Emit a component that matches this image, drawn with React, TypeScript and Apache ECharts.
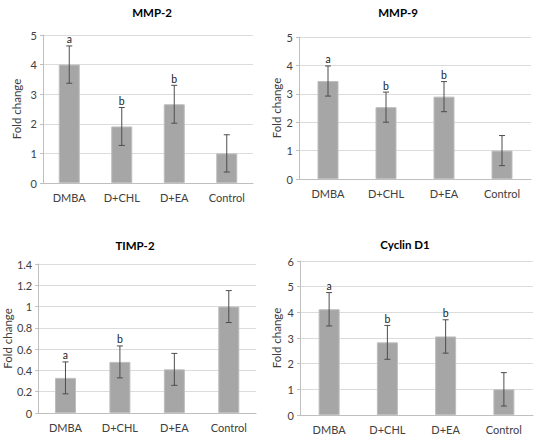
import React, { useEffect, useRef } from "react";
import * as echarts from "echarts";

const categories = ["DMBA", "D+CHL", "D+EA", "Control"];

const mmp2Mean = [4.0, 1.91, 2.66, 1.0];
const mmp2Err = [0.63, 0.64, 0.64, 0.63];
const mmp2Letters = ["a", "b", "b", ""];

const mmp9Mean = [3.45, 2.53, 2.9, 1.0];
const mmp9Err = [0.53, 0.53, 0.53, 0.53];
const mmp9Letters = ["a", "b", "b", ""];

const timp2Mean = [0.33, 0.48, 0.41, 1.0];
const timp2Err = [0.15, 0.15, 0.15, 0.15];
const timp2Letters = ["a", "b", "", ""];

const cyclinMean = [4.12, 2.83, 3.06, 1.0];
const cyclinErr = [0.65, 0.66, 0.65, 0.65];
const cyclinLetters = ["a", "b", "b", ""];

const titles = ["MMP-2", "MMP-9", "TIMP-2", "Cyclin D1"];
const yMax = [5, 5, 1.4, 6];
const yStep = [1, 1, 0.2, 1];

const FONT = "Lato";

export default function App() {
  const ref = useRef<HTMLDivElement>(null);
  useEffect(() => {
    if (!ref.current) return;
    const chart = echarts.init(ref.current, null, { renderer: "svg" });
    const panels = [
      { mean: mmp2Mean, err: mmp2Err, letters: mmp2Letters, grid: { left: 43, top: 35, width: 210, height: 148 }, nameGap: 21, titleX: 147, titleY: 1 },
      { mean: mmp9Mean, err: mmp9Err, letters: mmp9Letters, grid: { left: 299, top: 37, width: 232, height: 142 }, nameGap: 17, titleX: 393, titleY: 1 },
      { mean: timp2Mean, err: timp2Err, letters: timp2Letters, grid: { left: 38, top: 264, width: 218, height: 149 }, nameGap: 23, titleX: 130, titleY: 234 },
      { mean: cyclinMean, err: cyclinErr, letters: cyclinLetters, grid: { left: 300, top: 261, width: 233, height: 154 }, nameGap: 18, titleX: 400, titleY: 233 },
    ];
    const grid: any[] = [];
    const xAxis: any[] = [];
    const yAxis: any[] = [];
    const series: any[] = [];
    const title: any[] = [];
    panels.forEach((p, i) => {
      grid.push({ ...p.grid });
      title.push({
        text: titles[i],
        left: p.titleX,
        top: p.titleY,
        textAlign: "center",
        textStyle: { fontFamily: FONT, fontSize: 11.5, fontWeight: "bold", color: "#000" },
      });
      xAxis.push({
        type: "category",
        gridIndex: i,
        data: categories,
        axisLine: { lineStyle: { color: "#bfbfbf" } },
        axisTick: { show: false },
        axisLabel: { fontFamily: FONT, fontSize: 11, color: "#404040", margin: 9 },
      });
      yAxis.push({
        type: "value",
        gridIndex: i,
        min: 0,
        max: yMax[i],
        interval: yStep[i],
        name: "Fold change",
        nameLocation: "middle",
        nameGap: p.nameGap,
        nameTextStyle: { fontFamily: FONT, fontSize: 11.5, color: "#404040" },
        axisLine: { show: true, lineStyle: { color: "#bfbfbf" } },
        axisTick: { show: true, length: 3, lineStyle: { color: "#bfbfbf" } },
        axisLabel: { fontFamily: FONT, fontSize: 11, color: "#404040", margin: 6 },
        splitLine: { lineStyle: { color: "#dcdcdc" } },
      });
      series.push({
        type: "bar",
        xAxisIndex: i,
        yAxisIndex: i,
        data: p.mean,
        barWidth: 21,
        itemStyle: { color: "#a6a6a6", borderColor: "#bdbdbd", borderWidth: 1 },
        z: 2,
      });
      const letters = p.letters;
      series.push({
        type: "custom",
        xAxisIndex: i,
        yAxisIndex: i,
        z: 5,
        itemStyle: { color: "#222222" },
        data: p.mean.map((m, k) => [k, m - p.err[k], m + p.err[k]]),
        renderItem: (params: any, api: any) => {
          const idx = api.value(0);
          const top = api.coord([idx, api.value(2)]);
          const bot = api.coord([idx, api.value(1)]);
          const cap = 3;
          const st = { stroke: "#4d4d4d", lineWidth: 1, fill: "none" };
          const children: any[] = [
            { type: "line", shape: { x1: top[0], y1: top[1], x2: bot[0], y2: bot[1] }, style: st },
            { type: "line", shape: { x1: top[0] - cap, y1: top[1], x2: top[0] + cap, y2: top[1] }, style: st },
            { type: "line", shape: { x1: bot[0] - cap, y1: bot[1], x2: bot[0] + cap, y2: bot[1] }, style: st },
          ];
          const letter = letters[params.dataIndex];
          if (letter) {
            children.push({
              type: "text",
              style: {
                text: letter,
                x: top[0],
                y: top[1] - 6.5,
                align: "center",
                verticalAlign: "middle",
                fontFamily: FONT,
                fontSize: 10.5,
                fill: "#222222",
              },
            });
          }
          return { type: "group", children };
        },
      });
    });
    chart.setOption({
      animation: false,
      backgroundColor: "#fff",
      title,
      grid,
      xAxis,
      yAxis,
      series,
    });
    return () => chart.dispose();
  }, []);
  return (
    <div
      ref={ref}
      style={{ position: "fixed", left: 0, top: 0, width: 537, height: 435 }}
    />
  );
}
